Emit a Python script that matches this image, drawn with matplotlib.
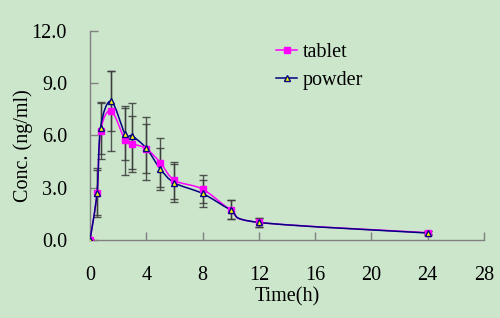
import numpy as np
import matplotlib
matplotlib.use('Agg')
import matplotlib.pyplot as plt
from matplotlib.path import Path
from matplotlib.patches import PathPatch
from matplotlib.lines import Line2D

plt.rcParams['font.family'] = ['Liberation Serif', 'DejaVu Serif']

# sampling times (h)
time = [0, 0.5, 0.75, 1.5, 2.5, 3, 4, 5, 6, 8, 10, 12, 24]
# mean concentrations (ng/ml)
tablet = [0.0, 2.72, 6.26, 7.42, 5.72, 5.53, 5.24, 4.44, 3.43, 2.92, 1.73, 1.01, 0.42]
powder = [0.0, 2.72, 6.45, 7.97, 6.07, 5.97, 5.27, 4.08, 3.28, 2.67, 1.73, 1.01, 0.40]
# standard deviations
tablet_sd = [0, 1.3, 1.6, 2.29, 2.0, 1.6, 1.4, 1.4, 1.05, 0.8, 0.55, 0.28, 0.10]
powder_sd = [0, 1.4, 1.5, 1.74, 1.5, 1.9, 1.8, 1.2, 1.1, 0.8, 0.55, 0.28, 0.12]

xticks = [0, 4, 8, 12, 16, 20, 24, 28]
yticks = [0, 3, 6, 9, 12]

bg = '#CCE6CC'
fs = 14.5


def smooth_path(x, y):
    # Catmull-Rom style smoothing (like Excel's smoothed line)
    pts = np.column_stack([np.asarray(x, float), np.asarray(y, float)])
    n = len(pts)
    verts = [pts[0]]
    codes = [Path.MOVETO]
    for i in range(n - 1):
        p0 = pts[i - 1] if i > 0 else pts[i]
        p1 = pts[i]
        p2 = pts[i + 1]
        p3 = pts[i + 2] if i + 2 < n else pts[i + 1]
        verts += [p1 + (p2 - p0) / 6.0, p2 - (p3 - p1) / 6.0, p2]
        codes += [Path.CURVE4] * 3
    return Path(verts, codes)


fig = plt.figure(figsize=(5.0, 3.18), dpi=100)
fig.patch.set_facecolor(bg)
ax = fig.add_axes([0.18, 0.2453, 0.788, 0.6572])
ax.set_facecolor(bg)

# error bars
for m, sd in [(tablet, tablet_sd), (powder, powder_sd)]:
    ax.errorbar(time, m, yerr=sd, fmt='none', ecolor='#3a3a3a',
                elinewidth=1, capsize=2.8, capthick=1, zorder=2, alpha=0.85)

# smoothed lines
ax.add_patch(PathPatch(smooth_path(time, tablet), fill=False,
                       edgecolor='#FF00FF', lw=1.1, zorder=3))
ax.add_patch(PathPatch(smooth_path(time, powder), fill=False,
                       edgecolor='#000080', lw=1.1, zorder=4))

# markers
ax.plot(time, tablet, linestyle='none', marker='s', markersize=4.5,
        color='#FF00FF', zorder=5)
ax.plot(time, powder, linestyle='none', marker='^', markersize=5,
        markerfacecolor='#FFFF00', markeredgecolor='#000080',
        markeredgewidth=1, zorder=6)

ax.set_xlim(0, 28)
ax.set_ylim(0, 12)
ax.set_xticks(xticks)
ax.set_yticks(yticks)
ax.set_yticklabels(['%.1f' % v for v in yticks])
ax.tick_params(direction='in', length=6, color='#808080', labelsize=fs,
               width=1)
ax.tick_params(axis='x', pad=19)
ax.tick_params(axis='y', pad=16.5)

for s in ['top', 'right']:
    ax.spines[s].set_visible(False)
for s in ['left', 'bottom']:
    ax.spines[s].set_color('#808080')
    ax.spines[s].set_linewidth(1)

ax.set_xlabel('Time(h)', fontsize=fs)
ax.set_ylabel('Conc. (ng/ml)', fontsize=fs)
ax.xaxis.set_label_coords(0.5, -0.228)
ax.yaxis.set_label_coords(-0.145, 0.45)

h1 = Line2D([], [], color='#FF00FF', marker='s', markersize=4.5, lw=1.1)
h2 = Line2D([], [], color='#000080', marker='^', markersize=5,
            markerfacecolor='#FFFF00', markeredgecolor='#000080', lw=1.1)
fig.legend([h1, h2], ['tablet', 'powder'], loc='upper left',
           bbox_to_anchor=(0.536, 0.8915), frameon=False, fontsize=fs,
           handlelength=1.06, labelspacing=0.45, handletextpad=0.25,
           borderaxespad=0)

fig.savefig('out.png', dpi=100, facecolor=bg)
